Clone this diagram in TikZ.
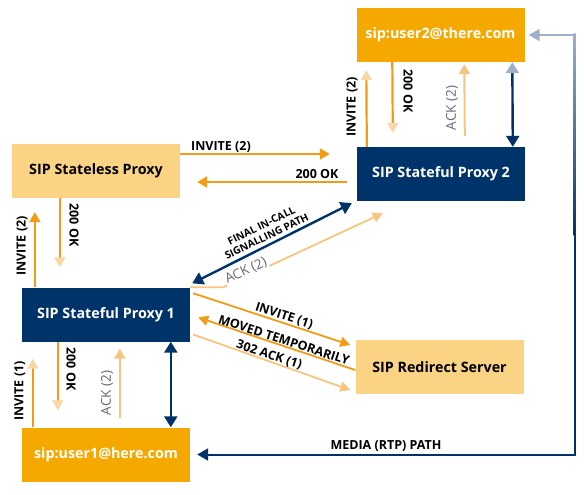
\documentclass[tikz,border=0pt]{standalone}
\usepackage{fontspec}
\setmainfont{Open Sans}
\usetikzlibrary{arrows.meta,calc}
\definecolor{obright}{HTML}{F5A800}
\definecolor{olight}{HTML}{FAD385}
\definecolor{navy}{HTML}{00336A}
\definecolor{oarrow}{HTML}{F39B17}
\definecolor{ofade}{HTML}{FAD7A6}
\definecolor{ack}{HTML}{F8C47E}
\definecolor{navyfade}{HTML}{9DB1C8}
\definecolor{gtext}{HTML}{6A6A6A}
\tikzset{
  box/.style={minimum width=168pt, minimum height=54pt, inner sep=0pt, font=\fontsize{14.3}{16}\selectfont\bfseries},
  navybox/.style={box, fill=navy, text=white},
  userbox/.style={box, fill=obright, text=white},
  lightbox/.style={box, fill=olight, text=black},
  oarr/.style={draw=oarrow, line width=2.2pt, -{Triangle[width=11pt,length=10pt]}},
  ofarr/.style={draw=oarrow, line width=2.2pt, -{Triangle[width=11pt,length=10pt,color=ofade]}},
  aarr/.style={draw=ack, line width=2pt, -{Triangle[width=11pt,length=10pt]}},
  darr/.style={draw=oarrow, line width=1.8pt, -{Triangle[width=10pt,length=10pt]}},
  dfarr/.style={draw=ack, line width=1.8pt, -{Triangle[width=10pt,length=10pt]}},
  narr/.style={draw=navy, line width=2.4pt, {Triangle[width=13pt,length=11pt]}-{Triangle[width=13pt,length=11pt]}},
  nfarr/.style={draw=navy, line width=2.4pt, {Triangle[width=13pt,length=11pt,color=navyfade]}-{Triangle[width=13pt,length=11pt]}},
  marr/.style={draw=navy, line width=2pt, {Triangle[width=12pt,length=11pt,color=navyfade]}-{Triangle[width=12pt,length=11pt]}},
  lbl/.style={font=\fontsize{12.5}{14}\selectfont\bfseries, inner sep=0pt},
  slbl/.style={font=\fontsize{10.3}{12}\selectfont\bfseries, inner sep=0pt, align=center},
  glbl/.style={font=\fontsize{13.5}{14}\selectfont, text=gtext, inner sep=0pt},
}
\begin{document}
\begin{tikzpicture}[x=1pt,y=-1pt]
\useasboundingbox (0,0) rectangle (584,495);
% boxes
\node[userbox]  (u2) at (440.5,35)  {sip:user2@there.com};
\node[navybox]  (p2) at (441,174)   {SIP Stateful Proxy 2};
\node[lightbox] (sl) at (96,171)    {SIP Stateless Proxy};
\node[navybox]  (p1) at (106,314.5) {SIP Stateful Proxy 1};
\node[userbox]  (u1) at (106,454.5) {sip:user1@here.com};
\node[lightbox] (rd) at (439.5,367) {SIP Redirect Server};
% user2 / proxy2
\draw[ofarr] ($(p2.north west)+(10,0)$) -- ($(u2.south west)+(10,8)$);
\draw[ofarr] ($(u2.south west)+(36,0)$) -- ($(p2.north west)+(36,-14)$);
\draw[aarr]  ($(p2.north west)+(108,-11)$) -- ($(u2.south west)+(108,2)$);
\draw[nfarr] ($(u2.south west)+(156,0)$) -- ($(p2.north west)+(156,0)$);
% stateless / proxy2
\draw[oarr] ($(sl.east)+(0,-17)$) -- ($(p2.west)+(-27,-20)$);
\draw[oarr] ($(p2.west)+(-10,8)$) -- ($(sl.east)+(17,11)$);
% stateless / proxy1
\draw[oarr]  ($(p1.north west)+(13,0)$) -- ($(sl.south west)+(23,14)$);
\draw[ofarr] ($(sl.south west)+(48,0)$) -- ($(p1.north west)+(38,-20)$);
% proxy1 / user1
\draw[ofarr] ($(u1.north west)+(11,0)$) -- ($(p1.south west)+(11,17)$);
\draw[ofarr] ($(p1.south west)+(36,0)$) -- ($(u1.north west)+(36,-17)$);
\draw[aarr]  ($(u1.north west)+(98,-9)$) -- ($(p1.south west)+(98,7)$);
\draw[narr]  ($(p1.south west)+(149,0)$) -- ($(u1.north west)+(149,0)$);
% diagonals proxy1 / proxy2
\draw[narr] ($(p1.north east)+(2,-4)$) -- ($(p2.south west)+(-5,2)$);
\draw[dfarr] (p1.north east) -- ++(33,0) -- ($(p2.south west)+(26,12)$);
% proxy1 / redirect
\draw[darr]  ($(p1.north east)+(3,6)$) -- ($(rd.west)+(-5,-22)$);
\draw[darr]  ($(rd.west)+(0,3)$) -- ($(p1.east)+(8,3)$);
\draw[dfarr] ($(p1.east)+(3,20)$) -- ($(rd.west)+(-5,23)$);
% media path
\draw[marr] ($(u2.east)+(4,0)$) -- ++(46,0) |- ($(u1.east)+(7,0)$);
\draw[draw=navyfade, line width=2pt] ($(u2.east)+(14,0)$) -- ($(u2.east)+(51,0)$);
\shade[top color=navyfade, bottom color=navy] ($(u2.east)+(49,-1)$) rectangle ($(u2.east)+(51,200)$);
% labels
\node[lbl, rotate=90]  (l1) at (352,107) {INVITE (2)};
\node[lbl, rotate=-90] (l2) at (408,91)  {200 OK};
\node[glbl, rotate=90] (l3) at (452,108) {ACK (2)};
\node[lbl] (l4) at (221,147) {INVITE (2)};
\node[lbl] (l5) at (317,174) {200 OK};
\node[lbl, rotate=90]  (l6) at (22,246) {INVITE (2)};
\node[lbl, rotate=-90] (l7) at (74,225) {200 OK};
\node[slbl, rotate=26] (l8) at (264,231) {FINAL IN-CALL\\SIGNALLING PATH};
\node[glbl, rotate=25, fill=white, inner sep=1pt] (l9) at (246,271) {ACK (2)};
\node[lbl, rotate=-18] (l10) at (284,316) {INVITE (1)};
\node[lbl, rotate=-18] (l11) at (284,340) {MOVED TEMPORARILY};
\node[lbl, rotate=-18] (l12) at (269,355) {302 ACK (1)};
\node[lbl, rotate=90]  (l13) at (20,391) {INVITE (1)};
\node[lbl, rotate=-90] (l14) at (71,369) {200 OK};
\node[glbl, rotate=90] (l15) at (107,393) {ACK (2)};
\node[lbl] (l16) at (386,446) {MEDIA (RTP) PATH};
\end{tikzpicture}
\end{document}
